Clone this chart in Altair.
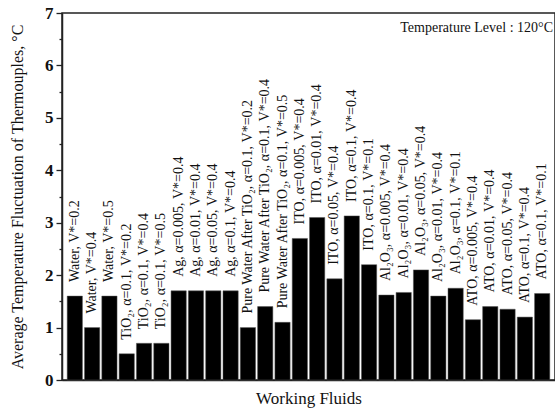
import altair as alt
import pandas as pd

labels = [
    "Water, V*=0.2", "Water, V*=0.4", "Water, V*=0.5",
    "TiO₂, α=0.1, V*=0.2", "TiO₂, α=0.1, V*=0.4", "TiO₂, α=0.1, V*=0.5",
    "Ag, α=0.005, V*=0.4", "Ag, α=0.01, V*=0.4", "Ag, α=0.05, V*=0.4", "Ag, α=0.1, V*=0.4",
    "Pure Water After TiO₂, α=0.1, V*=0.2", "Pure Water After TiO₂, α=0.1, V*=0.4",
    "Pure Water After TiO₂, α=0.1, V*=0.5",
    "ITO, α=0.005, V*=0.4", "ITO, α=0.01, V*=0.4", "ITO, α=0.05, V*=0.4",
    "ITO, α=0.1, V*=0.4", "ITO, α=0.1, V*=0.1",
    "Al₂O₃, α=0.005, V*=0.4", "Al₂O₃, α=0.01, V*=0.4", "Al₂O₃, α=0.05, V*=0.4",
    "Al₂O₃, α=0.01, V*=0.4", "Al₂O₃, α=0.1, V*=0.1",
    "ATO, α=0.005, V*=0.4", "ATO, α=0.01, V*=0.4", "ATO, α=0.05, V*=0.4",
    "ATO, α=0.1, V*=0.4", "ATO, α=0.1, V*=0.1",
]
values = [
    1.60, 1.00, 1.60,
    0.50, 0.70, 0.70,
    1.70, 1.70, 1.70, 1.70,
    1.00, 1.40, 1.10,
    2.70, 3.10, 1.93, 3.13, 2.20,
    1.62, 1.67, 2.10, 1.60, 1.75,
    1.15, 1.40, 1.35, 1.20, 1.65,
]
y_ticks = [0, 0.5, 1, 1.5, 2, 2.5, 3, 3.5, 4, 4.5, 5, 5.5, 6, 6.5, 7]

df = pd.DataFrame({"idx": list(range(len(labels))), "label": labels, "value": values})

FONT = "Liberation Serif"
common = dict(labelFont=FONT, titleFont=FONT, titleFontWeight="normal",
              labelColor="#111", titleColor="#111",
              domainColor="#222", domainWidth=1.5, tickColor="#222", tickWidth=1.3)

x = alt.X("idx:O", title="Working Fluids",
          scale=alt.Scale(paddingInner=0.12, paddingOuter=0.3),
          axis=alt.Axis(labels=False, ticks=False, titlePadding=10, titleFontSize=17, **common))
y = alt.Y("value:Q", title="Average Temperature Fluctuation of Thermouples, °C",
          scale=alt.Scale(domain=[0, 7], nice=False),
          axis=alt.Axis(values=y_ticks, grid=False,
                        labelExpr="datum.value % 1 === 0 ? format(datum.value, 'd') : ''",
                        tickSize={"condition": {"test": "datum.value % 1 !== 0", "value": 3}, "value": 6},
                        labelFontSize=17, labelFontWeight=700, labelPadding=3,
                        titleFontSize=16, titlePadding=19, **common))

base = alt.Chart(df).encode(x=x, y=y)
bars = base.mark_bar(color="black", stroke="#555", strokeWidth=0.5)
text = base.mark_text(angle=270, align="left", baseline="middle", dx=14,
                      font=FONT, fontSize=14, color="#111").encode(text="label:N")
note = alt.Chart(pd.DataFrame({"t": ["Temperature Level : 120°C"]})).mark_text(
    align="right", baseline="middle", font=FONT, fontSize=14, color="#111").encode(
    x=alt.value(491), y=alt.value(15), text="t:N")

chart = (bars + text + note).properties(
    width=493, height=367,
    background="white",
    autosize=alt.AutoSizeParams(type="none"),
    padding={"left": 62, "top": 13, "right": 0, "bottom": 32},
).configure_view(stroke="#222", strokeWidth=1.5).configure_axis(**common)

chart.save("out.html", embed_options={"renderer": "svg", "actions": False})
